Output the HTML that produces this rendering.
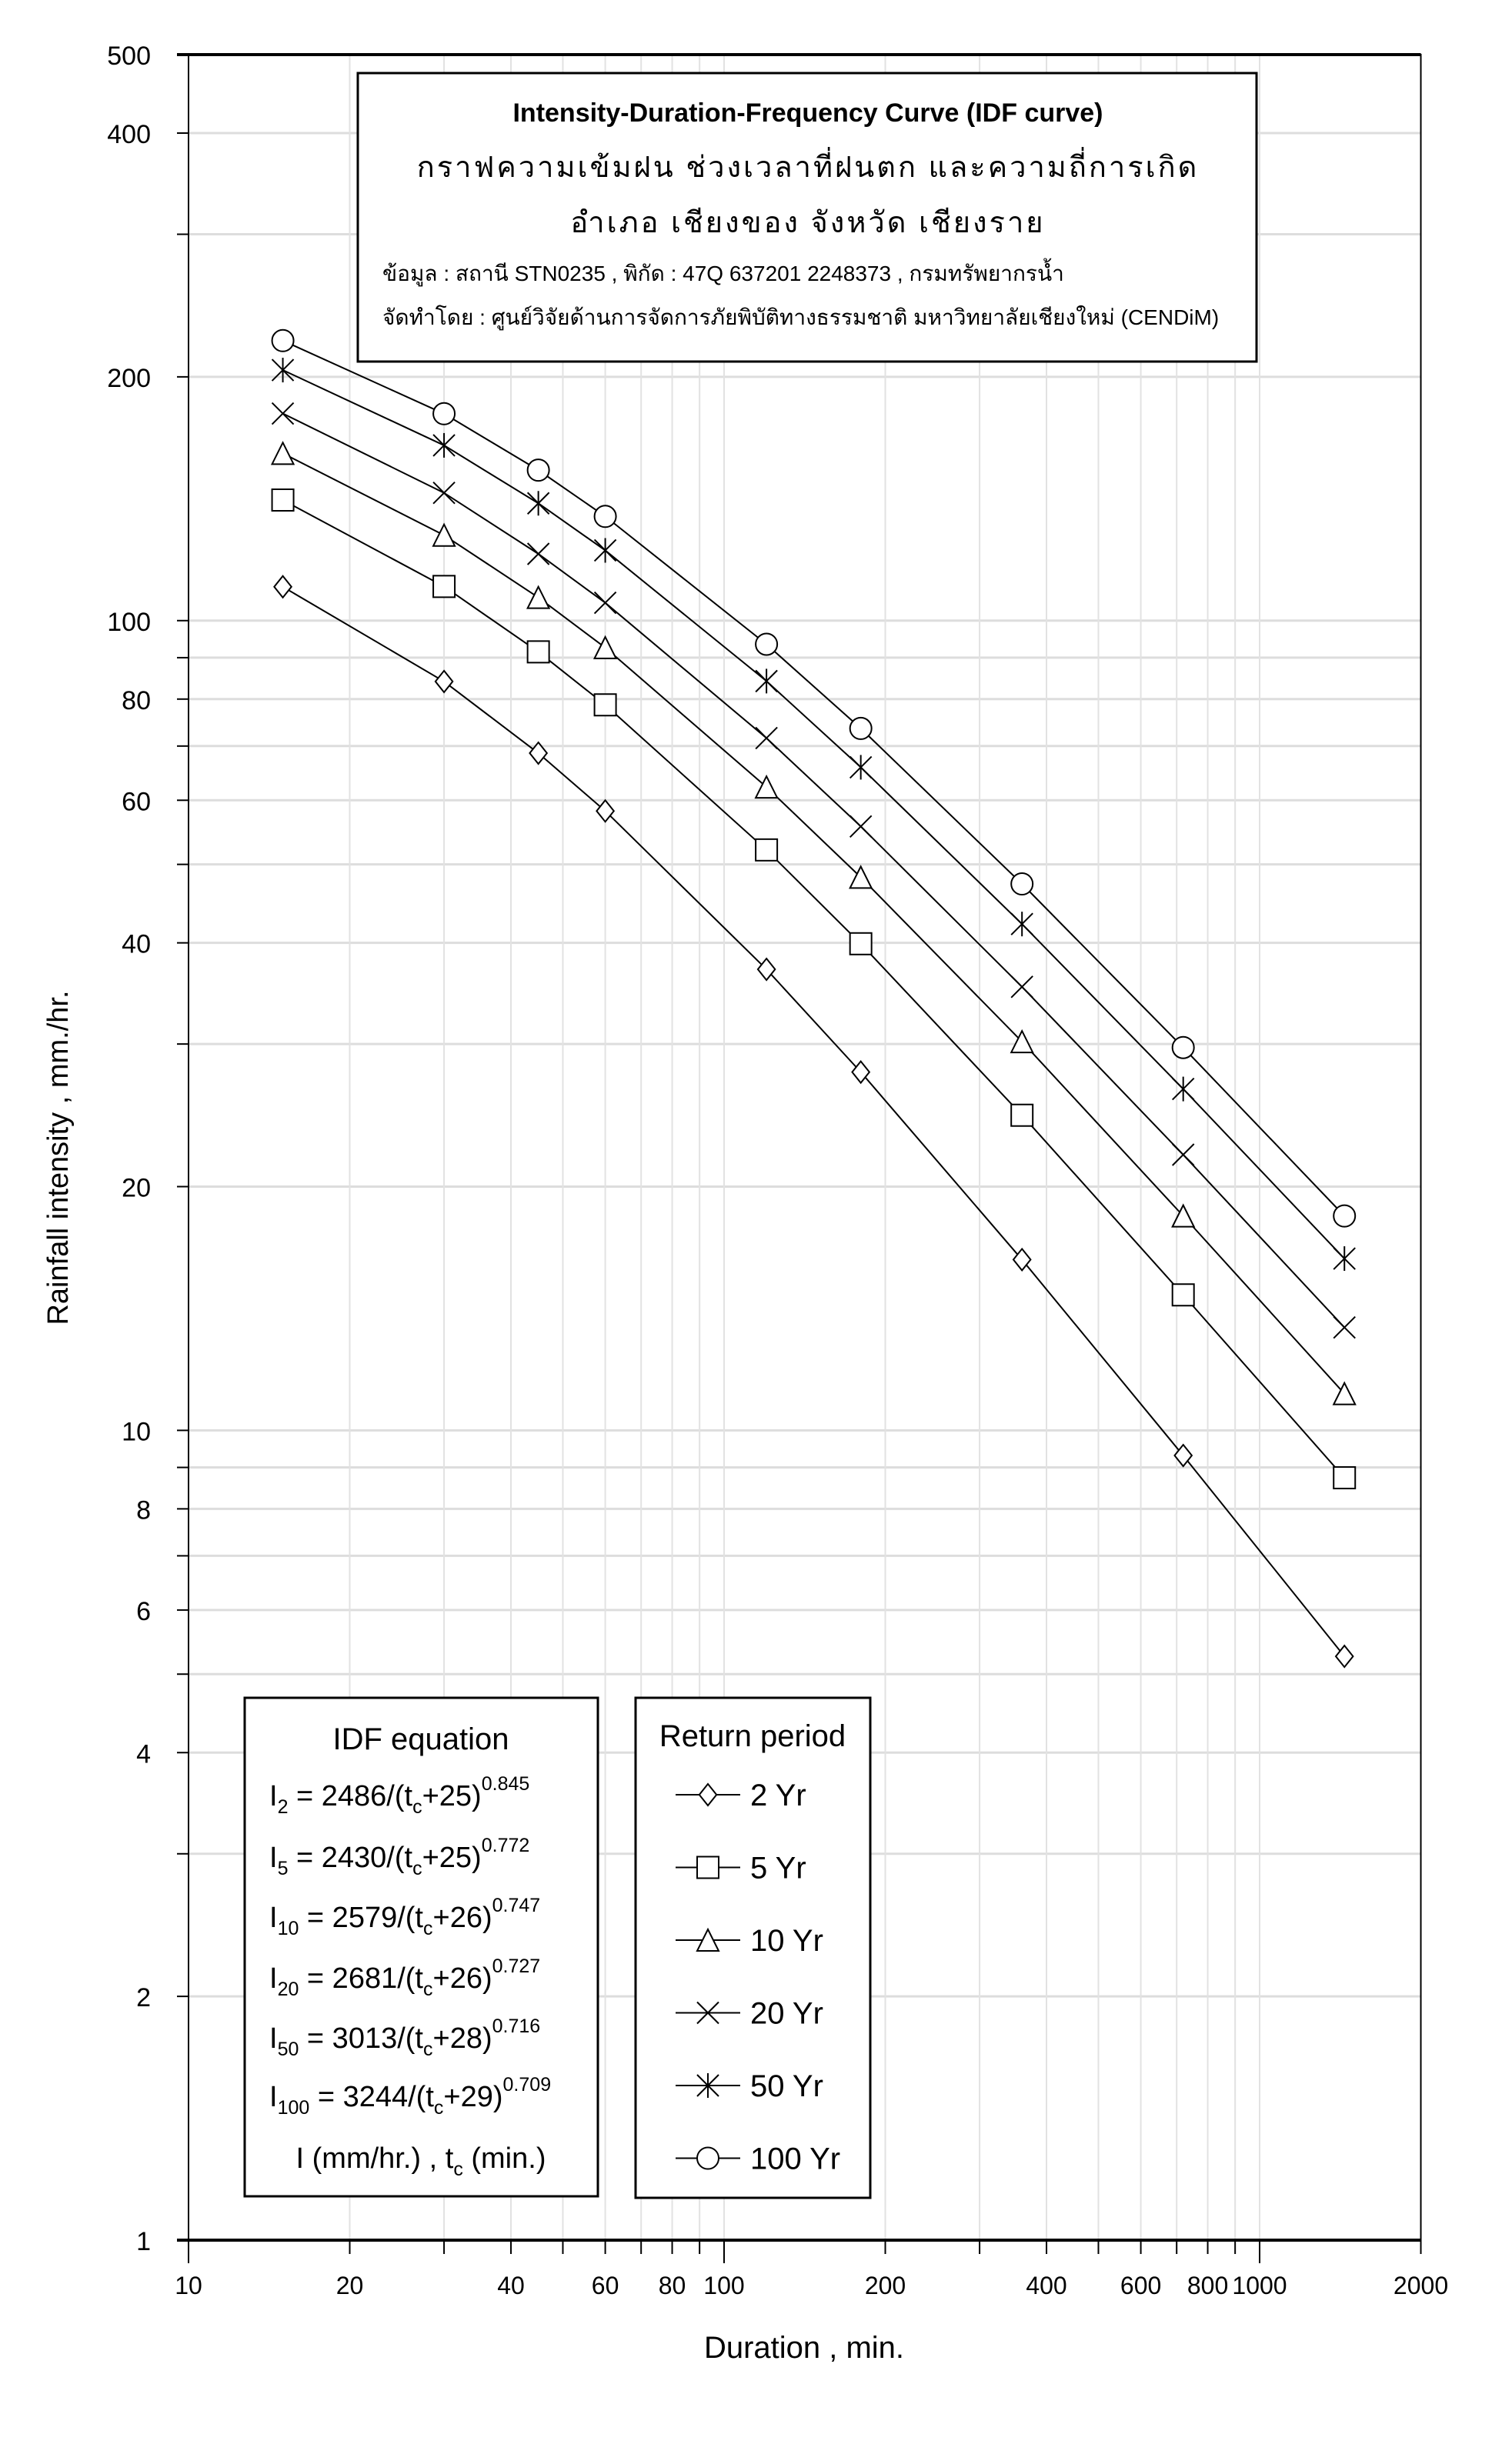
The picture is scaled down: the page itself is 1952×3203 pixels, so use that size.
<!DOCTYPE html>
<html><head><meta charset="utf-8"><style>
body{margin:0;background:#fff}
svg{display:block;font-family:"Liberation Sans","DejaVu Sans",sans-serif}
</style></head><body>
<svg id="c" width="1952" height="3203" viewBox="0 0 1952 3203">
<g id="grid"></g>
<g id="axes"></g>
<g id="series"></g>
<g>
<rect x="465" y="95" width="1168" height="375" fill="#fff" stroke="#000" stroke-width="3"/>
<text x="1050" y="158" text-anchor="middle" font-size="34" font-weight="bold">Intensity-Duration-Frequency Curve (IDF curve)</text>
<text x="1050" y="230" text-anchor="middle" font-size="38" letter-spacing="3">กราฟความเข้มฝน ช่วงเวลาที่ฝนตก และความถี่การเกิด</text>
<text x="1050" y="302" text-anchor="middle" font-size="38" letter-spacing="3">อำเภอ เชียงของ จังหวัด เชียงราย</text>
<text x="497" y="365" font-size="28">ข้อมูล : สถานี STN0235 , พิกัด : 47Q 637201 2248373 , กรมทรัพยากรน้ำ</text>
<text x="497" y="422" font-size="28">จัดทำโดย : ศูนย์วิจัยด้านการจัดการภัยพิบัติทางธรรมชาติ มหาวิทยาลัยเชียงใหม่ (CENDiM)</text>
</g>
<g font-size="38">
<rect x="318" y="2207" width="459" height="648" fill="#fff" stroke="#000" stroke-width="3"/>
<text x="547" y="2274" text-anchor="middle" font-size="40">IDF equation</text>
<text x="350" y="2347">I<tspan font-size="25" dy="10">2</tspan><tspan dy="-10"> = 2486/(t</tspan><tspan font-size="25" dy="10">c</tspan><tspan dy="-10">+25)</tspan><tspan font-size="25" dy="-20">0.845</tspan></text>
<text x="350" y="2427">I<tspan font-size="25" dy="10">5</tspan><tspan dy="-10"> = 2430/(t</tspan><tspan font-size="25" dy="10">c</tspan><tspan dy="-10">+25)</tspan><tspan font-size="25" dy="-20">0.772</tspan></text>
<text x="350" y="2505">I<tspan font-size="25" dy="10">10</tspan><tspan dy="-10"> = 2579/(t</tspan><tspan font-size="25" dy="10">c</tspan><tspan dy="-10">+26)</tspan><tspan font-size="25" dy="-20">0.747</tspan></text>
<text x="350" y="2584">I<tspan font-size="25" dy="10">20</tspan><tspan dy="-10"> = 2681/(t</tspan><tspan font-size="25" dy="10">c</tspan><tspan dy="-10">+26)</tspan><tspan font-size="25" dy="-20">0.727</tspan></text>
<text x="350" y="2662">I<tspan font-size="25" dy="10">50</tspan><tspan dy="-10"> = 3013/(t</tspan><tspan font-size="25" dy="10">c</tspan><tspan dy="-10">+28)</tspan><tspan font-size="25" dy="-20">0.716</tspan></text>
<text x="350" y="2738">I<tspan font-size="25" dy="10">100</tspan><tspan dy="-10"> = 3244/(t</tspan><tspan font-size="25" dy="10">c</tspan><tspan dy="-10">+29)</tspan><tspan font-size="25" dy="-20">0.709</tspan></text>
<text x="547" y="2818" text-anchor="middle">I (mm/hr.) , t<tspan font-size="25" dy="10">c</tspan><tspan dy="-10"> (min.)</tspan></text>
</g>
<g id="legend">
<rect x="826" y="2207" width="305" height="650" fill="#fff" stroke="#000" stroke-width="3"/>
<text x="978" y="2270" text-anchor="middle" font-size="40">Return period</text>
</g>
<text x="1045" y="3065" text-anchor="middle" font-size="40">Duration , min.</text>
<text transform="translate(88,1505) rotate(-90)" text-anchor="middle" font-size="38">Rainfall intensity , mm./hr.</text>
</svg>
<script>
const durations=[15,30,45,60,120,180,360,720,1440];
const periods=["2 Yr","5 Yr","10 Yr","20 Yr","50 Yr","100 Yr"];
const i2=[110.1,84.1,68.6,58.2,37.1,27.7,16.25,9.31,5.26];
const i5=[140.9,110.2,91.5,78.7,52.1,39.9,24.5,14.7,8.74];
const i10=[160.9,127.5,106.8,92.6,62.3,48.2,30.2,18.4,11.1];
const i20=[180.2,143.8,120.9,105.2,71.6,55.7,35.3,21.9,13.4];
const i50=[203.9,164.6,139.6,122.1,84.2,65.9,42.2,26.4,16.3];
const i100=[221.7,180.1,153.4,134.5,93.5,73.6,47.3,29.7,18.4];
const xTickLabels=[10,20,40,60,80,100,200,400,600,800,1000,2000];
const yTickLabels=[1,2,4,6,8,10,20,40,60,80,100,200,400,500];
const markers=["diamond","square","triangle","x","star","circle"];
const NS="http://www.w3.org/2000/svg";
const L=245,T=71,B=2912,DEC=696,R=L+DEC*Math.log10(200);
const xs=v=>L+Math.log10(v/10)*DEC;
const ys=v=>B-Math.log10(v)*(B-T)/Math.log10(500);
function mk(t,a,p){const e=document.createElementNS(NS,t);for(const k in a)e.setAttribute(k,a[k]);(p||document.getElementById('c')).appendChild(e);return e;}
const grid=document.getElementById('grid'),axes=document.getElementById('axes');
[1,10,100].forEach(d=>{for(let m=1;m<10;m++){const v=d*m;if(v>500)continue;
 const gl=mk('line',{x1:L,x2:R,y1:ys(v),y2:ys(v),stroke:'#ddd','stroke-width':3},grid);
 
 
 const tk=mk('line',{x1:L-15,x2:L,y1:ys(v),y2:ys(v),stroke:'#000','stroke-width':2},axes);
 
 }});
[10,100,1000].forEach(d=>{for(let m=1;m<10;m++){const v=d*m;if(v>2000)continue;
 const gl=mk('line',{y1:T,y2:B,x1:xs(v),x2:xs(v),stroke:'#e2e2e2','stroke-width':2},grid);
 
 
 const tk=mk('line',{y1:B,y2:B+(m==1?30:18),x1:xs(v),x2:xs(v),stroke:'#000','stroke-width':2},axes);
 
 }});
const fr=mk('rect',{x:L,y:T,width:R-L,height:B-T,fill:'none',stroke:'#000','stroke-width':2},axes);


mk('line',{x1:L-15,x2:R,y1:T,y2:T,stroke:'#000','stroke-width':4},axes);
mk('line',{x1:L-15,x2:R,y1:B,y2:B,stroke:'#000','stroke-width':4},axes);
yTickLabels.forEach(v=>{const t=mk('text',{x:196,y:ys(v)+13,'text-anchor':'end','font-size':34},axes);t.textContent=v;
 
 });
xTickLabels.forEach(v=>{const t=mk('text',{x:xs(v),y:2982,'text-anchor':'middle','font-size':32},axes);t.textContent=v;
 
 });
function marker(type,x,y,g){const s=14,a={fill:'#fff',stroke:'#000','stroke-width':2};
 if(type=='diamond')return mk('polygon',Object.assign({points:`${x},${y-s} ${x+s*0.8},${y} ${x},${y+s} ${x-s*0.8},${y}`},a),g);
 if(type=='square')return mk('rect',Object.assign({x:x-s,y:y-s,width:2*s,height:2*s},a),g);
 if(type=='triangle')return mk('polygon',Object.assign({points:`${x},${y-s} ${x+s},${y+s} ${x-s},${y+s}`},a),g);
 if(type=='circle')return mk('ellipse',Object.assign({cx:x,cy:y,rx:s,ry:s},a),g);
 const gg=mk('g',{stroke:'#000','stroke-width':2},g);
 mk('line',{x1:x-s,y1:y-s,x2:x+s,y2:y+s},gg);mk('line',{x1:x-s,y1:y+s,x2:x+s,y2:y-s},gg);
 if(type=='star')mk('line',{x1:x,y1:y-s-2,x2:x,y2:y+s+2},gg);
 return gg;}
const all=[i2,i5,i10,i20,i50,i100];
const sg=document.getElementById('series');
all.forEach((vals,k)=>{const g=mk('g',{},sg);
 
 
 const pts=vals.map((v,i)=>xs(durations[i])+','+ys(v)).join(' ');
 mk('polyline',{points:pts,fill:'none',stroke:'#000','stroke-width':2},g);
 vals.forEach((v,i)=>{const m=marker(markers[k],xs(durations[i]),ys(v),g);
  
  });
 const lg=document.getElementById('legend');
 const y=2333+k*94.5;
 const e=mk('g',{},lg);
 
 
 mk('line',{x1:878,x2:962,y1:y,y2:y,stroke:'#000','stroke-width':2},e);
 marker(markers[k],920,y,e);
 const t=mk('text',{x:975,y:y+14,'font-size':40},e);t.textContent=periods[k];
});
</script>
</body></html>
